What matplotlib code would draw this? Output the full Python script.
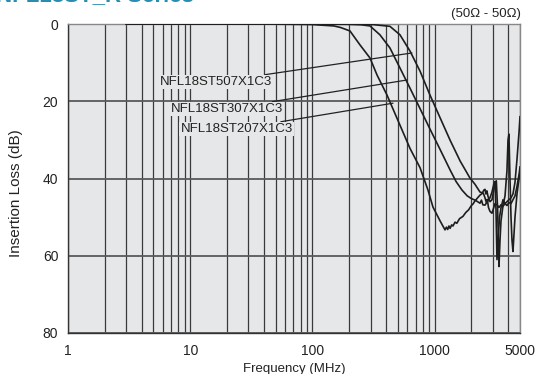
import matplotlib
matplotlib.use("Agg")
import matplotlib.pyplot as plt
from matplotlib.ticker import FixedLocator, NullFormatter

plt.rcParams['font.family'] = ['Liberation Sans', 'DejaVu Sans']

# ---------------- data ----------------
freq_207 = [3, 10, 50, 100, 150, 170, 203, 245, 296, 338, 408, 521, 629, 760, 883, 970,
            1110, 1217, 1250, 1280, 1310, 1340, 1380, 1414, 1470, 1520, 1600, 1707, 1800,
            1900, 2000, 2062, 2141, 2250, 2352, 2450, 2530, 2585, 2630, 2680, 2735, 2840,
            2950, 3050, 3120, 3200, 3280, 3365, 3430, 3495, 3630, 3770, 3910, 3990, 4060,
            4140, 4220, 4300, 4380, 4550, 4725, 4910, 5000]
loss_207 = [0.0, 0.0, 0.05, 0.15, 0.5, 0.9, 1.8, 5.4, 8.8, 13.2, 18.4, 26.2, 32.2, 37.2, 43.0, 47.4,
            51.0, 53.3, 52.6, 53.2, 52.3, 52.9, 52.0, 52.3, 51.3, 51.6, 50.4, 49.8, 48.8,
            48.1, 47.0, 46.6, 45.8, 45.0, 44.3, 43.9, 43.0, 42.8, 44.0, 43.2, 44.6, 46.0,
            45.5, 43.0, 41.2, 40.6, 48.0, 62.8, 56.0, 51.0, 47.0, 44.5, 38.0, 30.0, 28.5,
            40.0, 50.0, 56.0, 58.9, 50.0, 44.0, 40.0, 38.5]

freq_307 = [3, 10, 50, 100, 200, 250, 296, 357, 431, 521, 629, 760, 917, 1110, 1340, 1500,
            1676, 1850, 2000, 2141, 2250, 2352, 2420, 2480, 2585, 2700, 2840, 2950, 3050,
            3120, 3180, 3240, 3320, 3400, 3500, 3630, 3770, 3910, 4060, 4220, 4380, 4550,
            4725, 4910, 5000]
loss_307 = [0.0, 0.0, 0.0, 0.05, 0.1, 0.2, 0.5, 2.8, 6.2, 11.4, 16.6, 21.9, 27.2, 32.5, 37.8, 40.8,
            43.0, 44.5, 45.2, 45.6, 46.0, 46.4, 45.6, 46.8, 46.9, 46.0, 45.0, 43.5, 41.5,
            40.8, 48.0, 61.0, 55.0, 50.0, 47.5, 45.5, 46.5, 46.0, 45.5, 45.0, 44.0, 41.0,
            35.0, 28.0, 24.0]

freq_507 = [3, 10, 50, 100, 200, 300, 431, 521, 629, 760, 917, 1110, 1340, 1620, 1800, 1940,
            2141, 2352, 2505, 2585, 2650, 2700, 2760, 2840, 2950, 3050, 3120, 3240, 3365,
            3495, 3630, 3770, 3910, 4060, 4220, 4380, 4550, 4725, 4910, 5000]
loss_507 = [0.0, 0.0, 0.0, 0.0, 0.05, 0.1, 0.6, 2.8, 7.0, 12.2, 18.4, 24.3, 30.1, 35.5, 38.0, 39.8,
            41.5, 43.5, 43.8, 45.0, 46.2, 45.4, 47.5, 48.5, 49.0, 47.5, 46.5, 46.8, 47.5,
            46.8, 47.2, 46.5, 47.0, 46.2, 46.5, 45.5, 44.5, 42.0, 39.0, 37.0]

labels = ["NFL18ST507X1C3", "NFL18ST307X1C3", "NFL18ST207X1C3"]
label_text_pos = [(46.7, 15.0), (57.5, 22.0), (69.0, 27.2)]     # (MHz, dB) text anchor (right edge)
label_point = [(653, 7.5), (594, 14.5), (457, 20.5)]            # (MHz, dB) leader end on curve

x_major = [1, 10, 100, 1000, 5000]
x_major_labels = ["1", "10", "100", "1000", "5000"]
x_minor = [2, 3, 4, 5, 6, 7, 8, 9, 20, 30, 40, 50, 60, 70, 80, 90,
           200, 300, 400, 500, 600, 700, 800, 900, 2000, 3000, 4000]
y_ticks = [0, 20, 40, 60, 80]

# ---------------- figure ----------------
W, H = 536, 374
fig = plt.figure(figsize=(W / 100, H / 100), dpi=100)
ax = fig.add_axes([68 / W, 1 - 333 / H, (520 - 68) / W, (333 - 24) / H])

bg = '#e6e7e8'
ax.set_facecolor(bg)
ax.set_xscale('log')
ax.set_xlim(1, 5000)
ax.set_ylim(80, 0)

ax.xaxis.set_major_locator(FixedLocator(x_major))
ax.set_xticklabels(x_major_labels)
ax.xaxis.set_minor_locator(FixedLocator(x_minor))
ax.xaxis.set_minor_formatter(NullFormatter())
ax.set_yticks(y_ticks)

ax.tick_params(which='both', length=0)
ax.tick_params(axis='x', pad=8, labelsize=10, colors='#222222')
ax.tick_params(axis='y', pad=7, labelsize=10, colors='#222222')

ax.grid(True, which='both', axis='x', color='#3a3a3a', lw=0.9)
ax.grid(True, which='major', axis='y', color='#5a5a5a', lw=1.3)
ax.set_axisbelow(True)

for s in ['left', 'bottom']:
    ax.spines[s].set_color('#333333')
    ax.spines[s].set_linewidth(1.0)
for s in ['top', 'right']:
    ax.spines[s].set_color('#888888')
    ax.spines[s].set_linewidth(1.0)

for f, l in [(freq_207, loss_207), (freq_307, loss_307), (freq_507, loss_507)]:
    ax.plot(f, l, color='#1e1e1e', lw=1.2, solid_joinstyle='round', clip_on=True, zorder=3)

for lab, (tx, ty), (px, py) in zip(labels, label_text_pos, label_point):
    ax.annotate(lab, xy=(px, py), xytext=(tx, ty), ha='right', va='center',
                fontsize=9.5, color='#222222',
                bbox=dict(boxstyle='square,pad=0.1', facecolor=bg, edgecolor='none'),
                arrowprops=dict(arrowstyle='-', color='#222222', lw=0.9,
                                shrinkA=0, shrinkB=0), zorder=4)

fig.text(294 / W, 1 - 369 / H, 'Frequency (MHz)', ha='center', va='center',
         fontsize=9.5, color='#222222')
fig.text(16 / W, 1 - 193 / H, 'Insertion Loss (dB)', rotation=90, ha='center', va='center',
         fontsize=11, color='#222222')

fig.text(521 / W, 1 - 14 / H, '(50Ω - 50Ω)', ha='right', va='center', fontsize=9.5,
         color='#222222')
fig.text(-4 / W, 1 - 1.5 / H, 'NFL18ST_R Series', ha='left', va='baseline', fontsize=16,
         fontweight='bold', color='#2a8db0')

fig.savefig('out.png', dpi=100)
